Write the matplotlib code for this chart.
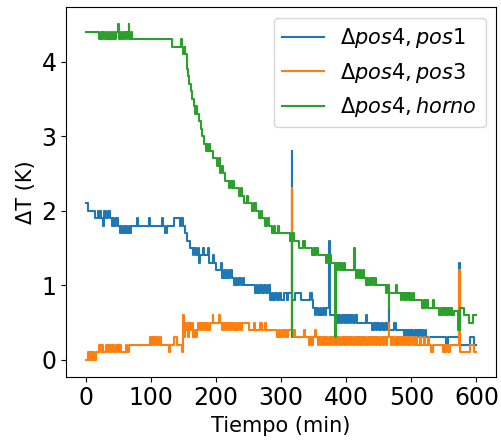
import numpy as np
import matplotlib
matplotlib.use("Agg")
import matplotlib.pyplot as plt
from matplotlib.ticker import MultipleLocator

# breakpoints (tiempo en min, valor en K), dibujados como escalones
t_pos1 = [0, 4, 14, 18, 20, 22, 24, 26, 28, 31, 34, 37, 40, 42, 44, 47, 50, 52, 54, 56,
          58, 60, 62, 64, 66, 68, 70, 78, 80, 97, 99, 117, 119, 121, 124, 136, 144, 146, 150, 152,
          155, 160, 164, 166, 169, 172, 174, 176, 180, 182, 187, 189, 195, 197, 200, 207, 209, 212, 214, 217,
          219, 222, 224, 228, 231, 233, 236, 238, 241, 243, 260, 263, 265, 268, 270, 274, 277, 280, 283, 286,
          288, 291, 293, 296, 300, 304, 309, 311, 316, 317, 322, 330, 345, 347, 349, 352, 354, 357, 359, 362,
          364, 367, 369, 374, 375, 386, 388, 391, 393, 396, 398, 401, 403, 406, 408, 411, 413, 416, 430, 432,
          440, 442, 445, 447, 450, 453, 456, 459, 462, 465, 466, 474, 477, 488, 490, 493, 495, 498, 500, 503,
          505, 508, 510, 513, 515, 518, 521, 523, 553, 557, 573, 574, 590, 596, 600]
v_pos1 = [2.1, 2.0, 1.9, 2.0, 1.9, 2.0, 1.9, 1.8, 2.0, 1.9, 2.0, 1.9, 1.8, 1.9, 1.8, 1.9, 1.8, 1.7, 1.8, 1.7,
          1.8, 1.7, 1.8, 1.7, 1.8, 1.7, 1.8, 1.9, 1.8, 1.9, 1.8, 1.9, 1.8, 1.7, 1.8, 1.9, 1.8, 1.9, 1.8, 1.7,
          1.6, 1.5, 1.4, 1.5, 1.4, 1.5, 1.3, 1.4, 1.5, 1.4, 1.5, 1.3, 1.4, 1.3, 1.2, 1.3, 1.1, 1.2, 1.1, 1.2,
          1.1, 1.2, 1.1, 1.0, 1.1, 1.0, 1.1, 1.0, 1.1, 1.0, 0.9, 1.0, 0.9, 1.0, 0.9, 1.0, 0.9, 1.0, 0.8, 0.9,
          0.8, 0.9, 0.8, 0.9, 0.8, 0.9, 0.8, 0.9, 2.8, 0.8, 0.9, 0.8, 0.9, 0.8, 0.7, 0.6, 0.7, 0.6, 0.7, 0.6,
          0.7, 0.6, 0.7, 1.6, 0.6, 0.5, 0.6, 0.5, 0.6, 0.5, 0.6, 0.5, 0.6, 0.5, 0.6, 0.5, 0.6, 0.5, 0.6, 0.5,
          0.4, 0.5, 0.4, 0.5, 0.4, 0.5, 0.4, 0.5, 0.4, 0.7, 0.4, 0.5, 0.4, 0.3, 0.4, 0.3, 0.4, 0.3, 0.4, 0.3,
          0.4, 0.3, 0.4, 0.3, 0.4, 0.3, 0.4, 0.3, 0.2, 0.3, 1.3, 0.2, 0.3, 0.2, 0.2]

t_pos3 = [0, 3, 5, 7, 9, 11, 13, 15, 21, 23, 25, 27, 31, 34, 36, 38, 41, 44, 46, 49,
          51, 54, 61, 64, 66, 98, 100, 102, 105, 107, 110, 112, 115, 128, 129, 135, 140, 147, 149, 150,
          151, 152, 153, 155, 157, 159, 161, 163, 165, 167, 169, 171, 173, 175, 177, 180, 182, 184, 186, 188,
          190, 195, 196, 205, 206, 209, 211, 214, 216, 218, 220, 223, 225, 228, 230, 233, 235, 238, 240, 250,
          258, 260, 268, 270, 275, 277, 294, 296, 298, 301, 304, 306, 309, 311, 316, 317, 320, 321, 335, 336,
          343, 344, 348, 349, 352, 353, 356, 358, 361, 363, 366, 368, 371, 373, 376, 378, 381, 383, 386, 388,
          391, 393, 396, 398, 401, 403, 406, 408, 411, 413, 416, 418, 421, 423, 426, 428, 431, 433, 436, 438,
          441, 443, 446, 448, 451, 453, 456, 458, 461, 463, 465, 466, 469, 471, 474, 476, 479, 481, 484, 486,
          489, 491, 494, 496, 499, 501, 504, 507, 509, 513, 515, 519, 521, 525, 527, 530, 533, 548, 550, 552,
          554, 556, 559, 573, 574, 590, 596, 600]
v_pos3 = [0.0, 0.1, 0.0, 0.1, 0.0, 0.1, 0.0, 0.1, 0.2, 0.1, 0.2, 0.1, 0.2, 0.1, 0.2, 0.1, 0.2, 0.1, 0.2, 0.1,
          0.2, 0.1, 0.2, 0.1, 0.2, 0.3, 0.2, 0.3, 0.2, 0.3, 0.2, 0.3, 0.2, 0.1, 0.2, 0.3, 0.2, 0.1, 0.3, 0.6,
          0.3, 0.5, 0.4, 0.5, 0.3, 0.5, 0.4, 0.5, 0.3, 0.4, 0.3, 0.4, 0.5, 0.4, 0.5, 0.4, 0.5, 0.4, 0.5, 0.4,
          0.5, 0.6, 0.5, 0.6, 0.5, 0.4, 0.5, 0.4, 0.5, 0.4, 0.5, 0.4, 0.5, 0.4, 0.5, 0.4, 0.5, 0.4, 0.5, 0.4,
          0.5, 0.4, 0.5, 0.4, 0.5, 0.4, 0.3, 0.4, 0.3, 0.4, 0.3, 0.4, 0.3, 0.4, 2.3, 0.3, 0.4, 0.3, 0.4, 0.3,
          0.2, 0.3, 0.2, 0.3, 0.4, 0.3, 0.2, 0.3, 0.2, 0.3, 0.2, 0.3, 0.2, 0.3, 0.2, 0.3, 0.2, 0.3, 0.2, 0.3,
          0.2, 0.3, 0.2, 0.3, 0.2, 0.3, 0.2, 0.3, 0.2, 0.3, 0.2, 0.3, 0.2, 0.3, 0.2, 0.3, 0.2, 0.3, 0.2, 0.3,
          0.2, 0.3, 0.2, 0.3, 0.2, 0.3, 0.2, 0.3, 0.2, 0.3, 0.5, 0.3, 0.2, 0.3, 0.2, 0.3, 0.2, 0.3, 0.2, 0.3,
          0.2, 0.3, 0.2, 0.3, 0.2, 0.3, 0.2, 0.3, 0.2, 0.3, 0.2, 0.3, 0.2, 0.3, 0.2, 0.1, 0.2, 0.1, 0.2, 0.1,
          0.2, 0.1, 0.2, 1.2, 0.1, 0.2, 0.1, 0.1]

t_horno = [0, 21, 23, 25, 27, 29, 32, 34, 37, 39, 42, 44, 47, 50, 51, 54, 56, 59, 61, 64,
           66, 67, 69, 71, 132, 146, 147, 150, 152, 153, 155, 156, 157, 159, 161, 163, 166, 168, 170, 171,
           174, 177, 179, 182, 184, 186, 188, 190, 191, 196, 201, 205, 206, 208, 210, 214, 220, 222, 224, 226,
           228, 236, 238, 240, 243, 247, 249, 256, 259, 261, 266, 269, 271, 276, 279, 281, 286, 289, 291, 295,
           297, 313, 316, 317, 320, 328, 333, 336, 348, 350, 352, 354, 356, 359, 369, 371, 373, 375, 377, 383,
           384, 386, 388, 390, 392, 394, 396, 398, 402, 412, 413, 415, 417, 419, 421, 423, 425, 427, 430, 432,
           434, 436, 438, 440, 442, 444, 446, 450, 461, 463, 465, 466, 477, 478, 484, 486, 488, 490, 492, 494,
           496, 498, 500, 502, 504, 517, 519, 521, 523, 525, 527, 533, 535, 543, 545, 547, 549, 551, 553, 555,
           557, 559, 561, 563, 566, 572, 574, 581, 589, 594, 600]
v_horno = [4.4, 4.3, 4.4, 4.3, 4.4, 4.3, 4.4, 4.3, 4.4, 4.3, 4.4, 4.3, 4.4, 4.5, 4.3, 4.4, 4.3, 4.4, 4.3, 4.4,
           4.5, 4.3, 4.4, 4.3, 4.2, 4.3, 4.2, 4.1, 4.2, 4.1, 4.0, 3.9, 3.8, 3.7, 3.6, 3.5, 3.4, 3.3, 3.4, 3.3,
           3.2, 3.1, 3.0, 2.9, 2.8, 2.9, 2.8, 2.9, 2.8, 2.7, 2.6, 2.7, 2.5, 2.6, 2.5, 2.4, 2.3, 2.4, 2.3, 2.4,
           2.3, 2.2, 2.3, 2.2, 2.1, 2.2, 2.1, 2.0, 2.1, 2.0, 1.9, 2.0, 1.9, 1.8, 1.9, 1.8, 1.7, 1.8, 1.7, 1.8,
           1.7, 1.6, 0.3, 1.7, 1.6, 1.5, 1.6, 1.5, 1.4, 1.5, 1.4, 1.5, 1.4, 1.4, 1.3, 1.4, 1.3, 1.4, 1.3, 0.3,
           1.3, 1.2, 1.3, 1.2, 1.3, 1.2, 1.3, 1.2, 1.2, 1.5, 1.2, 1.1, 1.2, 1.1, 1.2, 1.1, 1.2, 1.1, 1.0, 1.1,
           1.0, 1.1, 1.0, 1.1, 1.0, 1.1, 1.0, 1.0, 0.9, 1.0, 0.7, 0.9, 1.0, 0.9, 0.8, 0.9, 0.8, 0.9, 0.8, 0.9,
           0.8, 0.9, 0.8, 0.9, 0.8, 0.7, 0.8, 0.7, 0.8, 0.7, 0.7, 0.8, 0.7, 0.6, 0.7, 0.6, 0.7, 0.6, 0.7, 0.6,
           0.7, 0.6, 0.7, 0.6, 0.65, 0.4, 0.7, 0.6, 0.5, 0.6, 0.6]

labels = [r'$\Delta pos4, pos1$', r'$\Delta pos4, pos3$', r'$\Delta pos4, horno$']

fig = plt.figure(figsize=(5.02, 4.4), dpi=100)
ax = fig.add_axes([0.132, 0.144, 0.856, 0.839])

ax.plot(t_pos1, v_pos1, drawstyle='steps-post', label=labels[0])
ax.plot(t_pos3, v_pos3, drawstyle='steps-post', label=labels[1])
ax.plot(t_horno, v_horno, drawstyle='steps-post', label=labels[2])

ax.xaxis.set_major_locator(MultipleLocator(100))
ax.set_xlabel('Tiempo (min)', fontsize=15)
ax.set_ylabel('ΔT (K)', fontsize=15)
ax.tick_params(labelsize=17)
ax.legend(loc='upper right', fontsize=15)

fig.savefig('out.png')
